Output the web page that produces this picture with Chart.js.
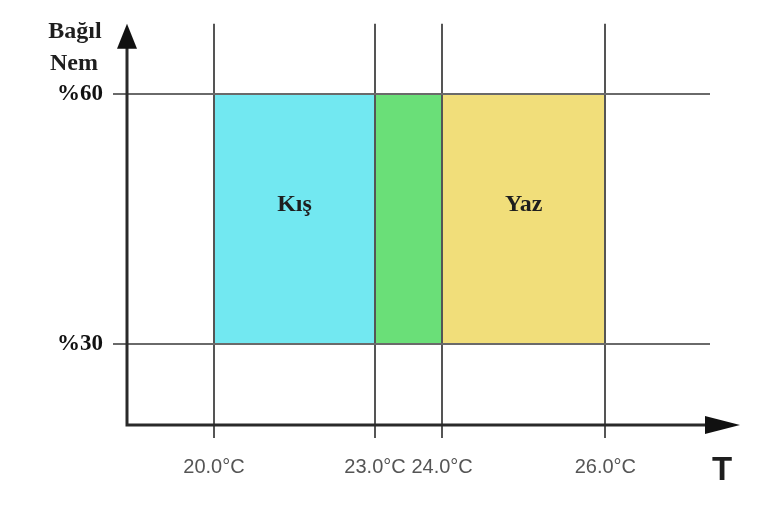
<!DOCTYPE html>
<html>
<head>
<meta charset="utf-8">
<script src="https://cdn.jsdelivr.net/npm/chart.js@4/dist/chart.umd.min.js"></script>
<style>
  body { margin: 0; background: #fff; }
  #wrap { width: 775px; height: 529px; }
</style>
</head>
<body>
<div id="wrap"><canvas id="myChart" width="775" height="529"></canvas></div>
<script>
// zones (winter / overlap / summer)
const zoneNames = ['Kış', '', 'Yaz'];
const zoneStart = [20, 23, 24];
const zoneEnd = [23, 24, 26];
const zoneColors = ['#72E8F1', '#6ADF78', '#F1DE7A'];

// relative humidity band
const humidityLow = 30;
const humidityHigh = 60;

// tick values + labels
const tempTicks = [20, 23, 24, 26];
const tempLabels = ['20.0°C', '23.0°C', '24.0°C', '26.0°C'];
const humidityTicks = [30, 60];
const humidityLabels = ['%30', '%60'];

// the drawing is schematic: the temperature axis is not evenly spaced,
// so a small linear scale with piecewise stops does the mapping
class PiecewiseScale extends Chart.LinearScale {
  warp(v) {
    const from = this.options.stops.from;
    const to = this.options.stops.to;
    let i = 0;
    if (v > from[from.length - 1]) i = from.length - 2;
    else {
      while (i < from.length - 2 && v > from[i + 1]) i++;
    }
    const slope = (to[i + 1] - to[i]) / (from[i + 1] - from[i]);
    return to[i] + (v - from[i]) * slope;
  }
  getPixelForValue(v) {
    return super.getPixelForValue(this.warp(v));
  }
}
PiecewiseScale.id = 'piecewise';
PiecewiseScale.defaults = Chart.LinearScale.defaults;
Chart.register(PiecewiseScale);

// datasets, one filled box per zone
let datasets = [];
for (let i = 0; i < zoneNames.length; i++) {
  datasets.push({
    label: zoneNames[i],
    data: [{x: zoneStart[i], y: humidityHigh}, {x: zoneEnd[i], y: humidityHigh}],
    fill: {value: humidityLow},
    backgroundColor: zoneColors[i],
    borderWidth: 0,
    pointRadius: 0
  });
}

// axes with arrows + the free texts
const decorPlugin = {
  id: 'decor',
  afterDraw(chart) {
    const ctx = chart.ctx;
    const area = chart.chartArea;
    const xs = chart.scales.x;
    const ys = chart.scales.y;
    ctx.save();

    // axis lines
    ctx.strokeStyle = '#2a2a2a';
    ctx.fillStyle = '#111';
    ctx.lineWidth = 3;
    ctx.beginPath();
    ctx.moveTo(area.left, area.top + 20);
    ctx.lineTo(area.left, area.bottom);
    ctx.lineTo(area.right + 2, area.bottom);
    ctx.stroke();

    // y arrow
    ctx.beginPath();
    ctx.moveTo(area.left, area.top);
    ctx.lineTo(area.left - 10, area.top + 25);
    ctx.lineTo(area.left + 10, area.top + 25);
    ctx.closePath();
    ctx.fill();

    // x arrow
    ctx.beginPath();
    ctx.moveTo(area.right + 30, area.bottom);
    ctx.lineTo(area.right - 5, area.bottom - 9);
    ctx.lineTo(area.right - 5, area.bottom + 9);
    ctx.closePath();
    ctx.fill();

    // axis names
    ctx.fillStyle = '#1e1e1e';
    ctx.textAlign = 'center';
    ctx.textBaseline = 'alphabetic';
    ctx.font = 'bold 24px "Liberation Serif", serif';
    ctx.fillText('Bağıl', 75, 38);
    ctx.fillText('Nem', 74, 70);

    ctx.font = 'bold 33px "Liberation Sans", sans-serif';
    ctx.fillText('T', 722, 480);

    // zone names
    ctx.font = 'bold 24px "Liberation Serif", serif';
    const yMid = (ys.getPixelForValue(humidityLow) + ys.getPixelForValue(humidityHigh)) / 2;
    for (let i = 0; i < zoneNames.length; i++) {
      if (zoneNames[i] == '') continue;
      const xMid = (xs.getPixelForValue(zoneStart[i]) + xs.getPixelForValue(zoneEnd[i])) / 2;
      ctx.fillText(zoneNames[i], xMid, yMid - 8);
    }
    ctx.restore();
  }
};

const ctx = document.getElementById('myChart').getContext('2d');
const myChart = new Chart(ctx, {
  type: 'line',
  data: { datasets: datasets },
  plugins: [decorPlugin],
  options: {
    responsive: false,
    animation: false,
    layout: { padding: { left: 0, top: 23, right: 65, bottom: 0 } },
    plugins: {
      legend: { display: false },
      tooltip: { enabled: false }
    },
    scales: {
      x: {
        type: 'piecewise',
        stops: { from: tempTicks, to: [20, 23, 24.25, 27.29] },
        min: 18.38,
        max: 29.24,
        bounds: 'data',
        afterBuildTicks: (scale) => { scale.ticks = tempTicks.map(v => ({value: v})); },
        afterFit: (scale) => { scale.height = 104; },
        grid: { color: '#555', lineWidth: 2, tickLength: 13, z: 1 },
        border: { display: false },
        ticks: {
          color: '#555',
          padding: 17,
          maxRotation: 0,
          autoSkip: false,
          font: { family: '"Liberation Sans", sans-serif', size: 20 },
          callback: (value) => tempLabels[tempTicks.indexOf(value)]
        }
      },
      y: {
        type: 'linear',
        min: 20.32,
        max: 68.37,
        bounds: 'data',
        afterBuildTicks: (scale) => { scale.ticks = humidityTicks.map(v => ({value: v})); },
        afterFit: (scale) => { scale.width = 127; },
        grid: { color: '#6a6a6a', lineWidth: 2, tickLength: 14, z: 1 },
        border: { display: false },
        ticks: {
          color: '#111',
          padding: 10,
          autoSkip: false,
          font: { family: '"Liberation Serif", serif', size: 23, weight: 'bold' },
          callback: (value) => humidityLabels[humidityTicks.indexOf(value)]
        }
      }
    }
  }
});
</script>
</body>
</html>
